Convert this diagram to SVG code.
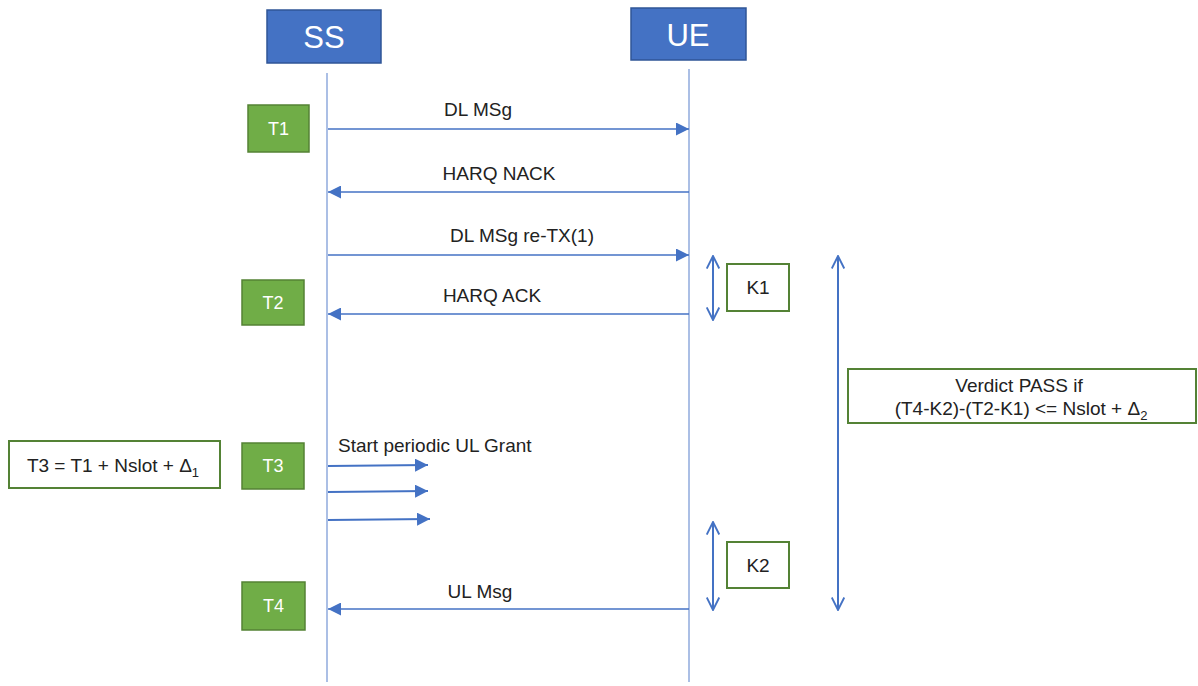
<svg xmlns="http://www.w3.org/2000/svg" width="1198" height="686" viewBox="0 0 1198 686">
<defs>
<style>
.hdr{fill:#4472C4;stroke:#2F5597;stroke-width:1.5}
.hdrt{fill:#fff;font-family:"Liberation Sans",sans-serif;font-size:31px;text-anchor:middle}
.tb{fill:#70AD47;stroke:#548235;stroke-width:1.5}
.tbt{fill:#fff;font-family:"Liberation Sans",sans-serif;font-size:18px;text-anchor:middle}
.ob{fill:#fff;stroke:#548235;stroke-width:2}
.lbl{fill:#222;font-family:"Liberation Sans",sans-serif;font-size:19px}
.life{stroke:#8FAADC;stroke-width:1.5;fill:none}
.msg{stroke:#4472C4;stroke-width:1.3;fill:none}
.grant{stroke:#4472C4;stroke-width:2;fill:none}
.dbl{stroke:#4472C4;stroke-width:2;fill:none}
</style>
<marker id="ah" viewBox="0 0 10 10" refX="10" refY="5" markerWidth="13" markerHeight="13" markerUnits="userSpaceOnUse" orient="auto">
<path d="M0,0 L10,5 L0,10 Z" fill="#4472C4"/>
</marker>
<marker id="oa" viewBox="0 0 12 12" refX="11" refY="6" markerWidth="15" markerHeight="15" markerUnits="userSpaceOnUse" orient="auto-start-reverse">
<path d="M1,1 L11,6 L1,11" fill="none" stroke="#4472C4" stroke-width="1.5"/>
</marker>
</defs>
<rect width="1198" height="686" fill="#fff"/>

<g id="SS">
<rect class="hdr" x="267" y="10" width="114" height="53"/>
<text class="hdrt" x="324" y="48">SS</text>
</g>
<g id="UE">
<rect class="hdr" x="631" y="8" width="115" height="52"/>
<text class="hdrt" x="688" y="46">UE</text>
</g>

<g id="connectors">
<line class="life" x1="327" y1="73" x2="327" y2="682"/>
<line class="life" x1="689" y1="69" x2="689" y2="682"/>
<line class="msg" x1="328" y1="129" x2="689" y2="129" marker-end="url(#ah)"/>
<line class="msg" x1="689" y1="192" x2="328" y2="192" marker-end="url(#ah)"/>
<line class="msg" x1="328" y1="255" x2="689" y2="255" marker-end="url(#ah)"/>
<line class="msg" x1="689" y1="314" x2="328" y2="314" marker-end="url(#ah)"/>
<line class="grant" x1="328" y1="466" x2="428" y2="465" marker-end="url(#ah)"/>
<line class="grant" x1="328" y1="492" x2="428" y2="491" marker-end="url(#ah)"/>
<line class="grant" x1="328" y1="520" x2="430" y2="519" marker-end="url(#ah)"/>
<line class="msg" x1="689" y1="609" x2="328" y2="609" marker-end="url(#ah)"/>
<line class="dbl" x1="713" y1="256" x2="713" y2="320" marker-start="url(#oa)" marker-end="url(#oa)"/>
<line class="dbl" x1="713" y1="522" x2="713" y2="610" marker-start="url(#oa)" marker-end="url(#oa)"/>
<line class="dbl" x1="838" y1="256" x2="838" y2="610" marker-start="url(#oa)" marker-end="url(#oa)"/>
</g>

<g id="labels">
<text class="lbl" x="478" y="116" text-anchor="middle">DL MSg</text>
<text class="lbl" x="499" y="180" text-anchor="middle">HARQ NACK</text>
<text class="lbl" x="522" y="242" text-anchor="middle">DL MSg re-TX(1)</text>
<text class="lbl" x="492" y="302" text-anchor="middle">HARQ ACK</text>
<text class="lbl" x="338" y="452">Start periodic UL Grant</text>
<text class="lbl" x="480" y="598" text-anchor="middle">UL Msg</text>
</g>

<g id="T1"><rect class="tb" x="248" y="105" width="61" height="47"/><text class="tbt" x="278.5" y="135">T1</text></g>
<g id="T2"><rect class="tb" x="242" y="280" width="62" height="45"/><text class="tbt" x="273" y="309">T2</text></g>
<g id="T3"><rect class="tb" x="242" y="443" width="62" height="46"/><text class="tbt" x="273" y="472">T3</text></g>
<g id="T4"><rect class="tb" x="242" y="582" width="63" height="48"/><text class="tbt" x="273.5" y="612">T4</text></g>

<g id="K1"><rect class="ob" x="727" y="264" width="62" height="47"/><text class="lbl" x="758" y="294" text-anchor="middle">K1</text></g>
<g id="K2"><rect class="ob" x="727" y="542" width="62" height="46"/><text class="lbl" x="758" y="572" text-anchor="middle">K2</text></g>

<g id="T3eq"><rect class="ob" x="9" y="441" width="211" height="47"/>
<text class="lbl" x="113" y="472" text-anchor="middle">T3 = T1 + Nslot + Δ<tspan font-size="13" dy="5">1</tspan></text></g>

<g id="verdict"><rect class="ob" x="848" y="369" width="348" height="54"/>
<text class="lbl" x="1019" y="392" text-anchor="middle">Verdict PASS if</text>
<text class="lbl" x="1021" y="415" text-anchor="middle">(T4-K2)-(T2-K1) &lt;= Nslot + Δ<tspan font-size="13" dy="5">2</tspan></text></g>
</svg>
